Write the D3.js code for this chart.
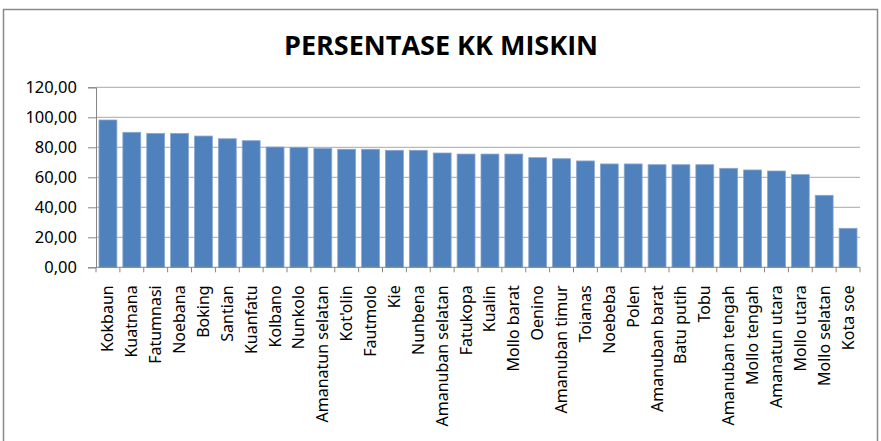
<!DOCTYPE html>
<html>
<head>
<meta charset="utf-8">
<script src="https://cdn.jsdelivr.net/npm/d3@7/dist/d3.min.js"></script>
<style>
  html, body { margin: 0; padding: 0; background: #fff; }
  svg { display: block; }
</style>
</head>
<body>
<svg id="chart" width="881" height="441"></svg>
<script>
const title = "PERSENTASE KK MISKIN";
const categories = ["Kokbaun","Kuatnana","Fatumnasi","Noebana","Boking","Santian","Kuanfatu","Kolbano","Nunkolo","Amanatun selatan","Kot'olin","Fautmolo","Kie","Nunbena","Amanuban selatan","Fatukopa","Kualin","Mollo barat","Oenino","Amanuban timur","Toianas","Noebeba","Polen","Amanuban barat","Batu putih","Tobu","Amanuban tengah","Mollo tengah","Amanatun utara","Mollo utara","Mollo selatan","Kota soe"];
const values = [98.2,90.0,89.3,89.3,87.5,85.7,84.4,80.2,80.0,79.3,78.7,78.7,78.0,78.0,76.2,75.5,75.5,75.5,73.1,72.4,70.9,68.9,68.9,68.4,68.4,68.4,66.0,64.9,64.2,61.8,48.0,26.0];
const yTicks = [0,20,40,60,80,100,120];

const svg = d3.select("#chart");
const mLeft = 96, mRight = 860, mTop = 87.3, mBottom = 267.3;

// outer frame
svg.append("rect").attr("x", 3.5).attr("y", 9.5).attr("width", 874).attr("height", 450)
  .attr("fill", "#fff").attr("stroke", "#898989").attr("stroke-width", 1.5);

svg.append("text").attr("x", 441).attr("y", 55).attr("text-anchor", "middle")
  .attr("font-family", "'Open Sans', sans-serif").attr("font-weight", "bold")
  .attr("font-size", 27).attr("fill", "#000").text(title);

const x = d3.scaleBand().domain(categories).range([mLeft, mRight]).paddingInner(0.25).paddingOuter(0.125);
const y = d3.scaleLinear().domain([0, 120]).range([mBottom, mTop]);

// gridlines
svg.append("g").selectAll("line").data(yTicks.filter(d => d > 0)).join("line")
  .attr("x1", mLeft).attr("x2", mRight).attr("y1", d => y(d)).attr("y2", d => y(d))
  .attr("stroke", "#a8a8a8").attr("stroke-width", 1);

// bars
svg.append("g").selectAll("rect").data(values).join("rect")
  .attr("x", (d, i) => x(categories[i])).attr("width", x.bandwidth())
  .attr("y", d => y(d)).attr("height", d => y(0) - y(d))
  .attr("fill", "#4f81bd").attr("stroke", "#8aa8d2").attr("stroke-width", 0.8);

// y axis
const yAxis = d3.axisLeft(y).tickValues(yTicks).tickSize(8).tickPadding(11)
  .tickFormat(d => d3.format(".2f")(d).replace(".", ","));
const gy = svg.append("g").attr("transform", `translate(${mLeft},0)`).call(yAxis);
gy.select(".domain").attr("stroke", "#868686");
gy.selectAll(".tick line").attr("stroke", "#868686");
gy.selectAll(".tick text").attr("font-family", "'Noto Sans', sans-serif").attr("font-size", 16.5).attr("fill", "#000");

// x axis
const gx = svg.append("g").attr("transform", `translate(0,${mBottom})`);
gx.append("line").attr("x1", mLeft).attr("x2", mRight).attr("stroke", "#868686");
const step = x.step();
const boundaries = d3.range(categories.length + 1);
gx.selectAll("line.tk").data(boundaries).join("line").attr("class", "tk")
  .attr("x1", i => mLeft + i * step).attr("x2", i => mLeft + i * step)
  .attr("y1", 0).attr("y2", 5).attr("stroke", "#868686");
gx.selectAll("text").data(categories).join("text")
  .attr("transform", d => `translate(${x(d) + x.bandwidth() / 2 + 5.5},18) rotate(-90)`)
  .attr("text-anchor", "end")
  .attr("font-family", "'Noto Sans', sans-serif").attr("font-size", 16).attr("fill", "#000")
  .text(d => d);
</script>
</body>
</html>
